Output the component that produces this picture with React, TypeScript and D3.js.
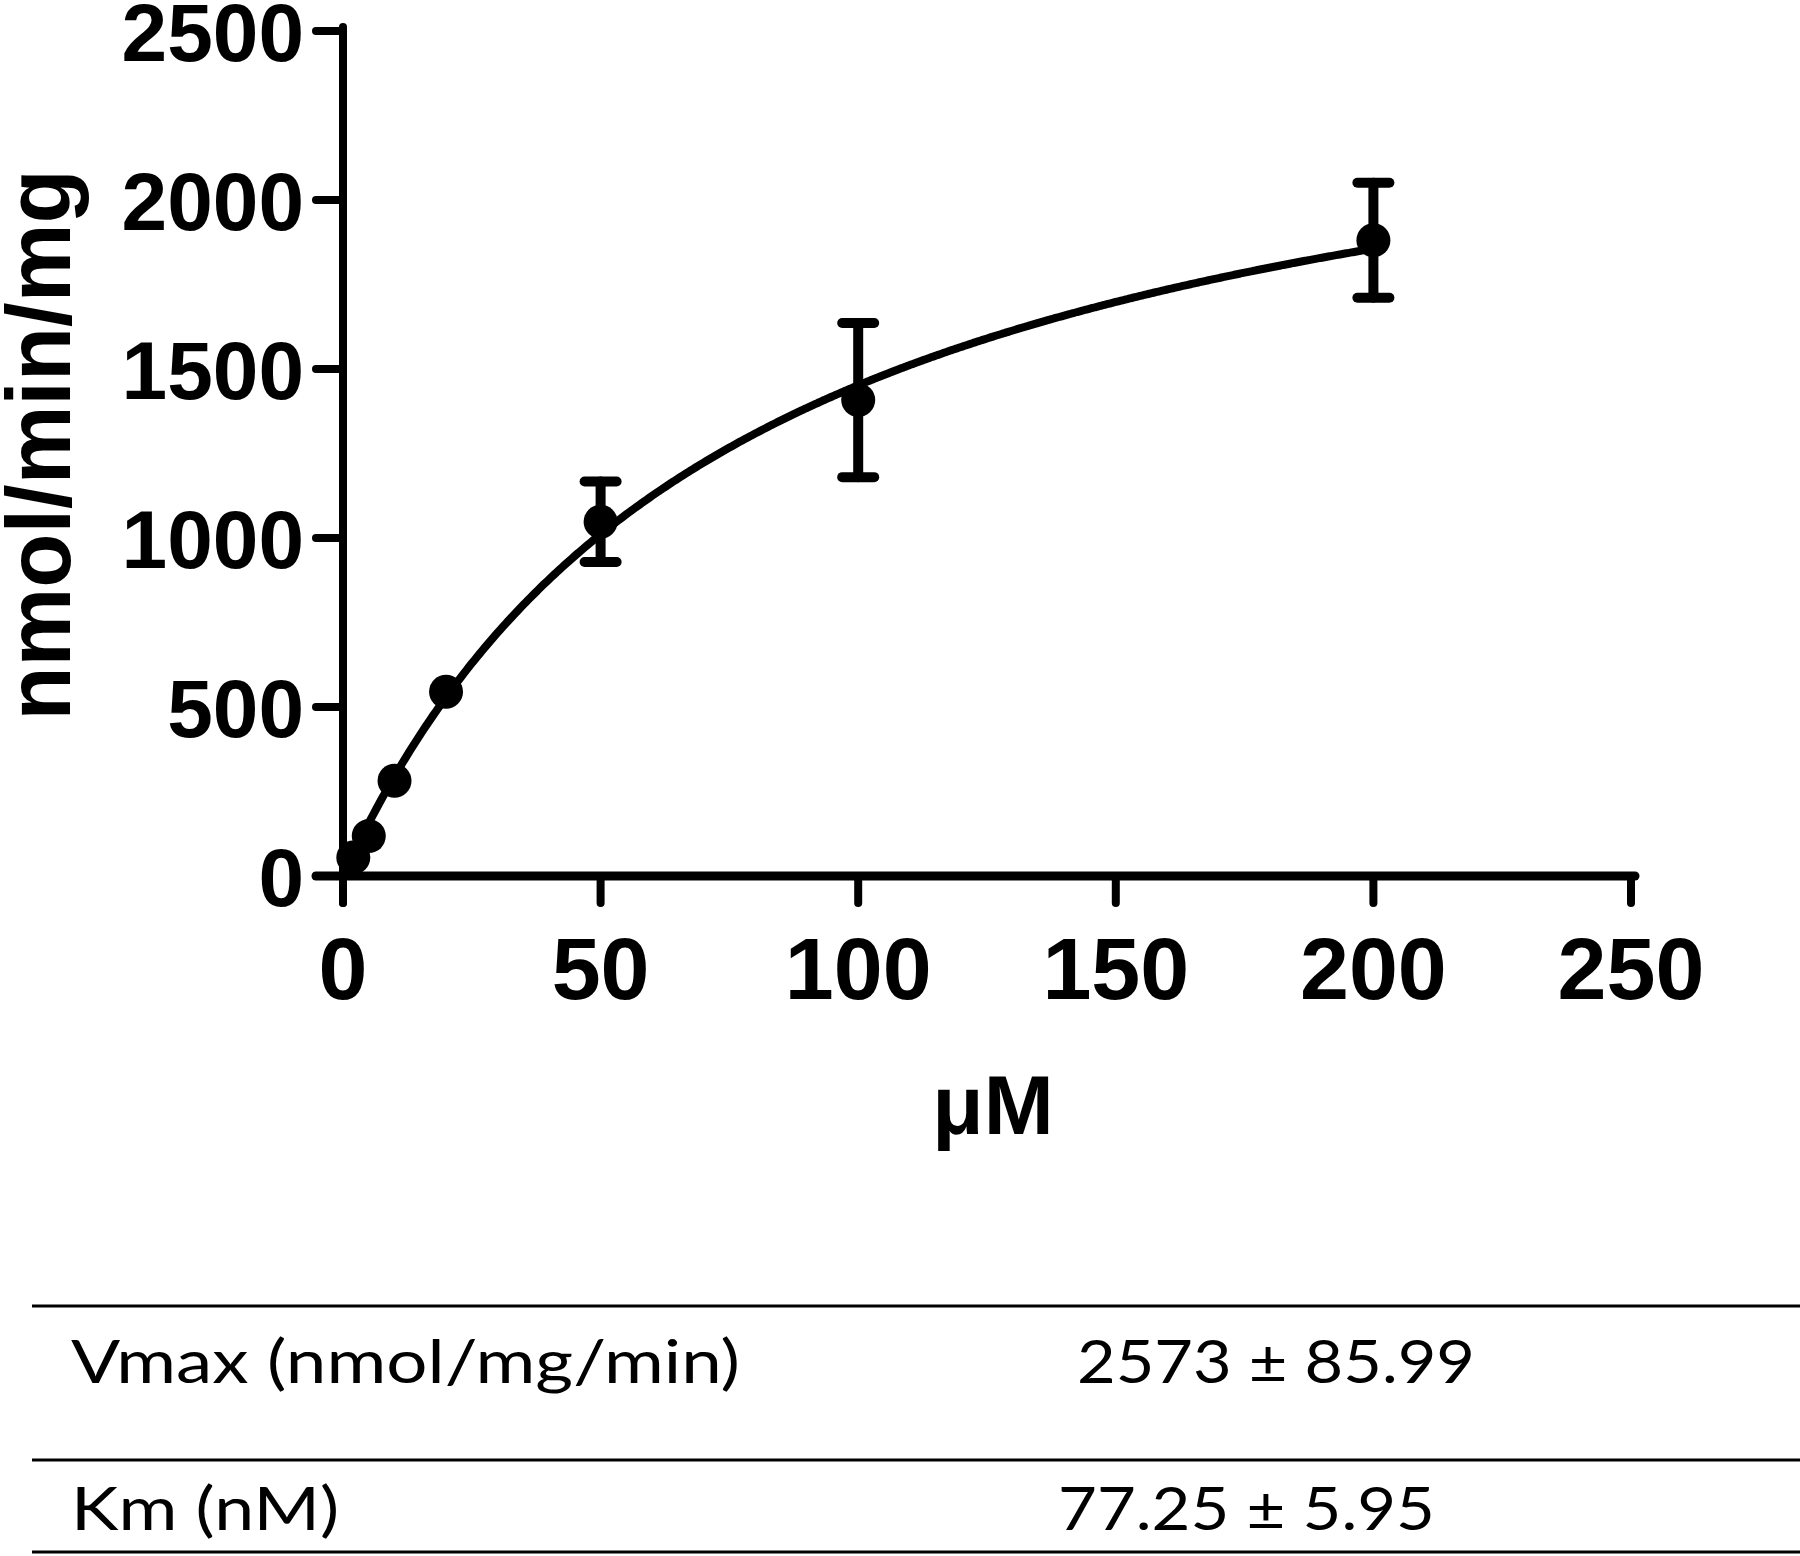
import React from "react";
import * as d3 from "d3";

const concentrations = [2, 5, 10, 20, 50, 100, 200];
const rates = [55, 118, 282, 545, 1048, 1408, 1881];
const errors = [0, 0, 0, 0, 119, 228, 170];
const xTicks = [0, 50, 100, 150, 200, 250];
const yTicks = [0, 500, 1000, 1500, 2000, 2500];
const vmax = 2573;
const km = 77.25;
const tableRows = [
  { label: "Vmax (nmol/mg/min)", value: "2573 ± 85.99" },
  { label: "Km (nM)", value: "77.25 ± 5.95" },
];

const W = 1800;
const H = 1556;

export default function App() {
  const x = d3.scaleLinear().domain([0, 250]).range([343, 1631]);
  const y = d3.scaleLinear().domain([0, 2500]).range([876, 31]);
  const tickLen = 27;
  const axisW = 8;
  const font = "'Liberation Sans', Arial, Helvetica, sans-serif";
  const tableFont = "Lato, 'Open Sans', 'Liberation Sans', sans-serif";

  const curveX = d3.range(0, 200.5, 0.5);
  const line = d3
    .line<number>()
    .x((d) => x(d))
    .y((d) => y((vmax * d) / (km + d)))
    .curve(d3.curveMonotoneX);

  const capHalf = 16;
  const rowYs = [1383, 1530];
  const lineYs = [1306, 1460, 1552];
  const labelLens = [669, 268];
  const valueX = [1077, 1058];
  const valueLens = [398, 377];

  return (
    <svg
      width={W}
      height={H}
      viewBox={`0 0 ${W} ${H}`}
      style={{ position: "absolute", left: 0, top: 0, background: "#fff" }}
    >
      <rect width={W} height={H} fill="#fff" />
      {/* Y axis */}
      <line x1={x(0)} x2={x(0)} y1={y(2500) - axisW / 2} y2={y(0) + tickLen} stroke="#000" strokeWidth={axisW} strokeLinecap="round" />
      {/* X axis */}
      <line x1={x(0) - tickLen} x2={x(250) + axisW / 2} y1={y(0)} y2={y(0)} stroke="#000" strokeWidth={axisW + 1} strokeLinecap="round" />
      {yTicks.map((t) => (
        <g key={"y" + t}>
          <line x1={x(0) - tickLen} x2={x(0)} y1={y(t)} y2={y(t)} stroke="#000" strokeWidth={axisW} strokeLinecap="round" />
          <text x={304} y={y(t) + 1} textAnchor="end" dominantBaseline="central" fontFamily={font} fontWeight="bold" fontSize={82}>
            {t}
          </text>
        </g>
      ))}
      {xTicks.map((t) => (
        <g key={"x" + t}>
          <line x1={x(t)} x2={x(t)} y1={y(0)} y2={y(0) + tickLen} stroke="#000" strokeWidth={axisW} strokeLinecap="round" />
          <text x={x(t)} y={999} textAnchor="middle" fontFamily={font} fontWeight="bold" fontSize={88}>
            {t}
          </text>
        </g>
      ))}
      {/* Axis titles */}
      <text
        transform={`translate(70, 445) rotate(-90)`}
        textAnchor="middle"
        fontFamily={font}
        fontWeight="bold"
        fontSize={90}
        textLength={551}
        lengthAdjust="spacingAndGlyphs"
      >
        nmol/min/mg
      </text>
      <text x={993} y={1134} textAnchor="middle" fontFamily={font} fontWeight="bold" fontSize={84}>
        μM
      </text>
      {/* fitted curve */}
      <path d={line(curveX) || ""} fill="none" stroke="#000" strokeWidth={8} />
      {/* error bars */}
      {concentrations.map((c, i) =>
        errors[i] > 0 ? (
          <g key={"e" + i} stroke="#000" strokeWidth={10} strokeLinecap="round">
            <line x1={x(c)} x2={x(c)} y1={y(rates[i] - errors[i])} y2={y(rates[i] + errors[i])} />
            <line x1={x(c) - capHalf} x2={x(c) + capHalf} y1={y(rates[i] + errors[i])} y2={y(rates[i] + errors[i])} />
            <line x1={x(c) - capHalf} x2={x(c) + capHalf} y1={y(rates[i] - errors[i])} y2={y(rates[i] - errors[i])} />
          </g>
        ) : null
      )}
      {/* points */}
      {concentrations.map((c, i) => (
        <circle key={"p" + i} cx={x(c)} cy={y(rates[i])} r={17} fill="#000" />
      ))}
      {/* table */}
      {lineYs.map((ly, i) => (
        <line key={"tl" + i} x1={32} x2={W} y1={ly} y2={ly} stroke="#000" strokeWidth={3} />
      ))}
      {tableRows.map((r, i) => (
        <g key={"row" + i}>
          <text x={71} y={rowYs[i]} fontFamily={tableFont} fontSize={60} textLength={labelLens[i]} lengthAdjust="spacingAndGlyphs">
            {r.label}
          </text>
          <text x={valueX[i]} y={rowYs[i]} fontFamily={tableFont} fontSize={60} textLength={valueLens[i]} lengthAdjust="spacingAndGlyphs">
            {r.value}
          </text>
        </g>
      ))}
    </svg>
  );
}
